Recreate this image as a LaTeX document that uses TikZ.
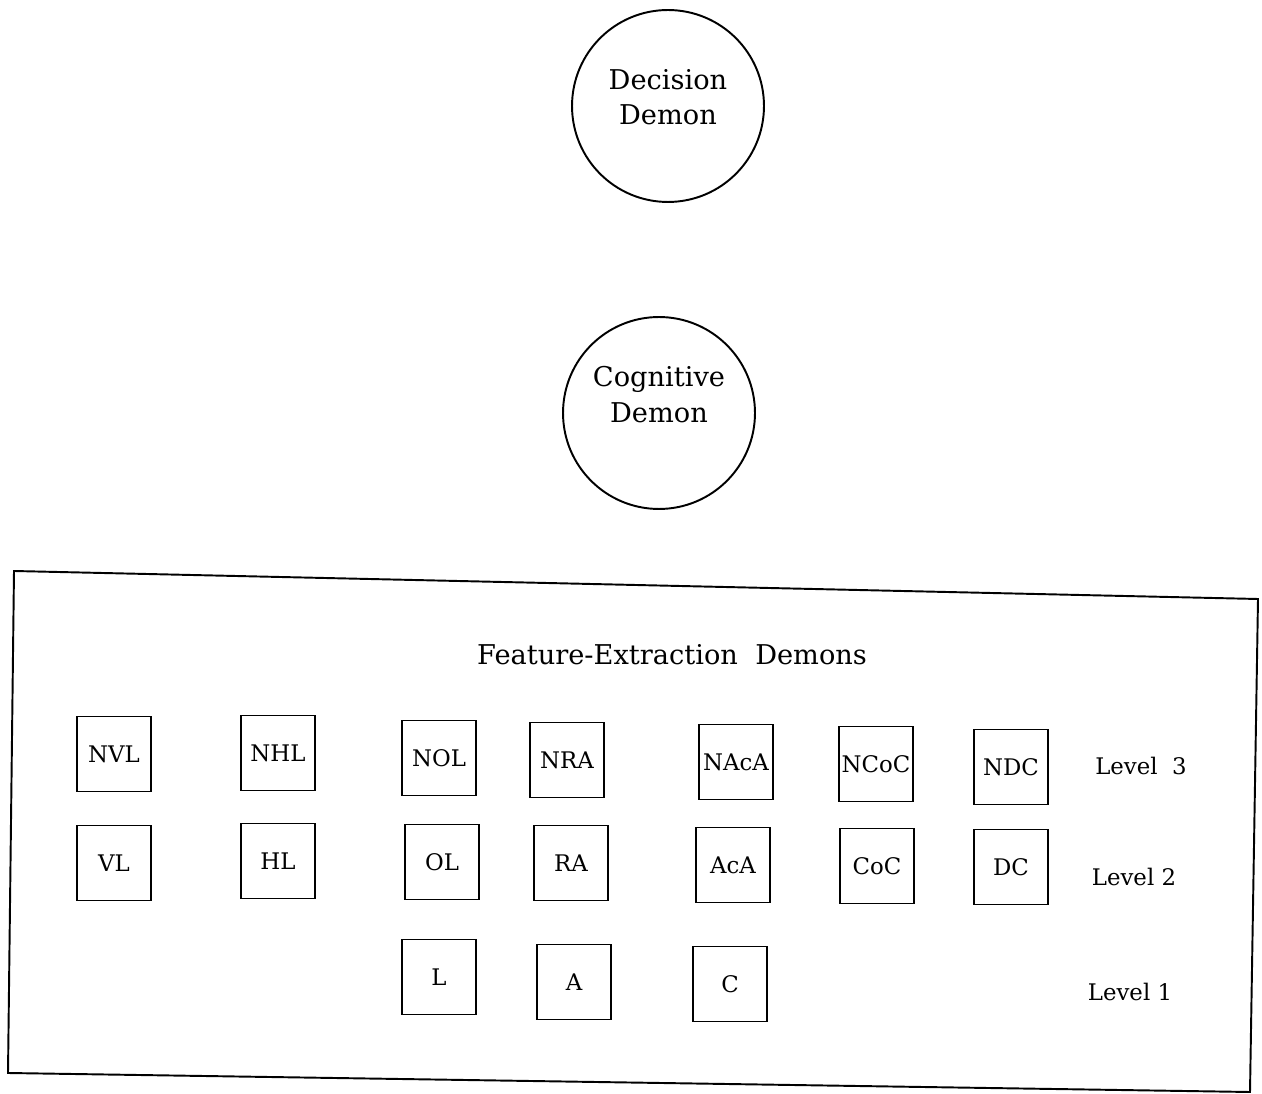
\documentclass[tikz,border=0pt]{standalone}
\usepackage{fontspec}
\setmainfont{DejaVu Serif}
\usepackage{tikz}
\usetikzlibrary{positioning}
\tikzset{
  demon/.style={draw, line width=1.1pt, circle, minimum size=3.84cm, inner sep=0pt},
  demontext/.style={align=center, font=\fontsize{15.5}{20.4}\selectfont},
  featbox/.style={draw, line width=1.1pt, minimum width=1.48cm, minimum height=1.5cm, inner sep=0pt,
    font=\fontsize{13}{15}\selectfont},
  lvl/.style={font=\fontsize{13}{15}\selectfont}
}

\begin{document}
\begin{tikzpicture}[x=0.02cm, y=-0.02cm]
\useasboundingbox (0,0) rectangle (1262,1094);
\node[demon] (dec) at (668,106) {};
\node[demon] (cog) at (659,413) {};
\node[demontext] (decT) at ([yshift=5pt]dec.center) {Decision\\Demon};
\node[demontext] (cogT) at ([yshift=10.5pt]cog.center) {Cognitive\\Demon};
% outer frame (slightly skewed as in the scan)
\draw[line width=1.1pt] (14,571) -- (1258,599) -- (1250,1092) -- (8,1073) -- cycle;
\node[font=\fontsize{15.5}{18}\selectfont] (title) at (672,655) {Feature-Extraction\ \ Demons};
\foreach \n/\x/\y in {NVL/114/754,NHL/278/753,NOL/439/758,NRA/567/760,NAcA/736/762,NCoC/876/764,NDC/1011/767,
  VL/114/863,HL/278/861,OL/442/862,RA/571/863,AcA/733/865,CoC/877/866,DC/1011/867,
  L/439/977,A/574/982,C/730/984} {
  \node[featbox] (\n) at (\x,\y) {\n};
}
\node[lvl] (lv3) at (1141,766) {Level\ \ 3};
\node[lvl] (lv2) at (1134,877) {Level 2};
\node[lvl] (lv1) at (1130,992) {Level 1};
\end{tikzpicture}
\end{document}
